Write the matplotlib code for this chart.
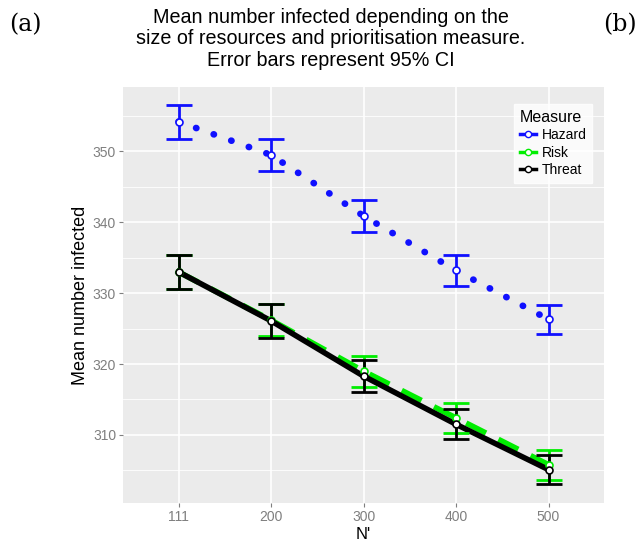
import matplotlib.pyplot as plt
from matplotlib.lines import Line2D

plt.rcParams['font.family'] = ['Liberation Sans', 'DejaVu Sans']

# resource sizes (discrete x axis)
sizes = ['111', '200', '300', '400', '500']

# mean number infected and 95% CI half widths per prioritisation measure
hazard_mean = [354.2, 349.5, 340.9, 333.2, 326.3]
hazard_ci = [2.4, 2.3, 2.3, 2.2, 2.0]
risk_mean = [333.0, 326.2, 319.0, 312.4, 305.8]
risk_ci = [2.4, 2.3, 2.2, 2.1, 2.1]
threat_mean = [333.0, 326.1, 318.3, 311.5, 305.1]
threat_ci = [2.4, 2.4, 2.3, 2.1, 2.0]

x = list(range(1, len(sizes) + 1))

fig = plt.figure(figsize=(6.38, 5.46), dpi=100)
ax = fig.add_axes([0.1928, 0.0788, 0.754, 0.762])
ax.set_facecolor('#EBEBEB')
for s in ax.spines.values():
    s.set_visible(False)

# grid like ggplot
for v in [305, 315, 325, 335, 345, 355]:
    ax.axhline(v, color='white', lw=0.6, zorder=0)
for v in [310, 320, 330, 340, 350]:
    ax.axhline(v, color='white', lw=1.2, zorder=0)
for v in x:
    ax.axvline(v, color='white', lw=1.2, zorder=0)

blue = '#1010FF'
green = '#00EE00'
black = '#000000'

ax.plot(x, hazard_mean, color=blue, lw=4.8, linestyle=(0, (0.05, 2.75)),
        dash_capstyle='round', zorder=2)
ax.plot(x, risk_mean, color=green, lw=4, linestyle=(0, (4, 2.5)), zorder=2)
ax.plot(x, threat_mean, color=black, lw=4, zorder=3)

for m, c, col in [(hazard_mean, hazard_ci, blue), (risk_mean, risk_ci, green),
                  (threat_mean, threat_ci, black)]:
    ax.errorbar(x, m, yerr=c, fmt='none', ecolor=col, elinewidth=2,
                capsize=9.5, capthick=2, zorder=4)
    ax.plot(x, m, 'o', ms=5, mfc='white', mec=col, mew=1.2, zorder=5)

ax.set_xlim(0.4, 5.6)
ax.set_ylim(300.4, 359.1)
ax.set_xticks(x)
ax.set_xticklabels(sizes)
ax.set_yticks([310, 320, 330, 340, 350])
ax.tick_params(colors='#7F7F7F', labelcolor='#7F7F7F', labelsize=10,
               length=3, width=0.8, pad=2)
ax.set_xlabel("N'", fontsize=12, labelpad=2)
ax.set_ylabel('Mean number infected', fontsize=13, labelpad=3)

handles = [Line2D([], [], color=col, lw=2.5, marker='o', ms=4.5, mfc='white',
                  mec=col) for col in (blue, green, black)]
leg = ax.legend(handles, ['Hazard', 'Risk', 'Threat'], title='Measure',
                loc='upper right', bbox_to_anchor=(0.99, 0.975),
                fontsize=10, title_fontsize=11.5, frameon=True, fancybox=False,
                handlelength=1.2, handletextpad=0.4, borderpad=0.4,
                labelspacing=0.25)
leg.get_frame().set_edgecolor('white')
leg.get_frame().set_facecolor('white')
leg._legend_box.align = 'left'

fig.text(0.518, 0.985,
         'Mean number infected depending on the\n'
         'size of resources and prioritisation measure.\n'
         'Error bars represent 95% CI',
         ha='center', va='top', fontsize=14.2, linespacing=1.15)
fig.text(0.015, 0.975, '(a)', ha='left', va='top', fontsize=17,
         family='DejaVu Serif')
fig.text(0.998, 0.975, '(b)', ha='right', va='top', fontsize=17,
         family='DejaVu Serif')

fig.savefig('out.png', dpi=100)
